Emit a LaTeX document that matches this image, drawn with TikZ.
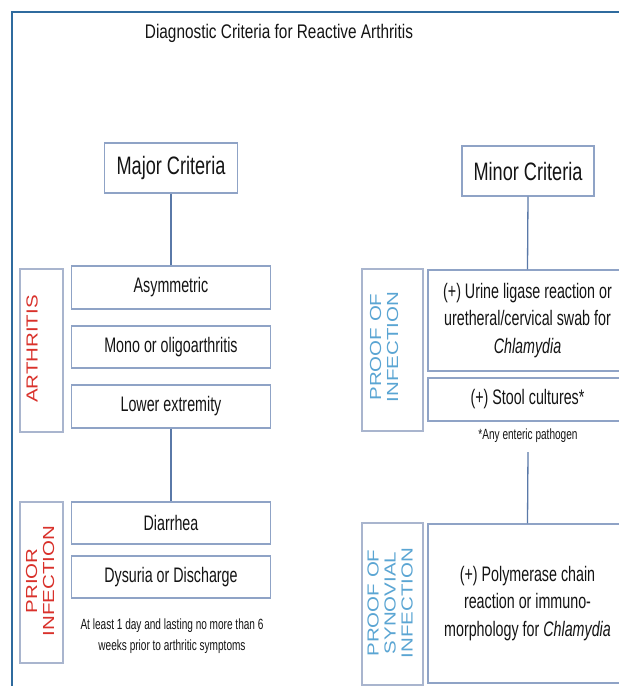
\documentclass[tikz,border=0pt]{standalone}
\usepackage{fontspec}
\newfontfamily\mainf[FakeStretch=0.68]{Liberation Sans}
\newfontfamily\headf[FakeStretch=0.72]{Liberation Sans}
\newfontfamily\titlef[FakeStretch=0.78]{Liberation Sans}
\newfontfamily\sidef[FakeStretch=1.28]{Liberation Sans}
\definecolor{framec}{HTML}{2F6B9E}
\definecolor{boxc}{HTML}{8FA3C6}
\definecolor{sidec}{HTML}{A9B5CE}
\definecolor{linkc}{HTML}{5A79A8}
\definecolor{redc}{HTML}{D9312B}
\definecolor{bluec}{HTML}{5AA5D3}
\definecolor{txtc}{HTML}{141414}
\tikzset{
  critbox/.style={draw=boxc, line width=1.3pt, inner sep=0pt, text=txtc, align=center, minimum width=199pt},
  headbox/.style={draw=boxc, line width=1.3pt, inner sep=0pt, text=txtc, minimum height=50pt, font=\headf\fontsize{25.2}{29}\selectfont},
  sidebox/.style={draw=sidec, line width=1.3pt, inner sep=0pt},
  sidetxt/.style={inner sep=0pt, rotate=90, align=center, font=\sidef\fontsize{16}{17}\selectfont},
  boxfont/.style={font=\mainf\fontsize{21}{27.5}\selectfont},
  notefont/.style={inner sep=0pt, text=txtc, align=center, font=\mainf\fontsize{14.8}{21}\selectfont},
  link/.style={draw=linkc, line width=1.3pt}
}
\begin{document}
\begin{tikzpicture}[x=1pt,y=-1pt]
\clip (0,0) rectangle (619,686);
\fill[white] (0,0) rectangle (619,686);
\draw[framec, line width=2pt] (12,700) -- (12,12) -- (640,12);

\node[inner sep=0pt, text=txtc, font=\titlef\fontsize{19.7}{24}\selectfont] (title) at (279,33) {Diagnostic Criteria for Reactive Arthritis};

% Left column
\node[headbox, minimum width=133pt] (major) at (171,168) {Major Criteria};
\node[critbox, boxfont, minimum height=43pt] (asym) at (171,287.5) {Asymmetric};
\node[critbox, boxfont, minimum height=42pt] (mono) at (171,347) {Mono or oligoarthritis};
\node[critbox, boxfont, minimum height=43pt] (lower) at (171,406.5) {Lower extremity};
\node[critbox, boxfont, minimum height=42pt] (diar) at (171,523) {Diarrhea};
\node[critbox, boxfont, minimum height=42pt] (dysu) at (171,577) {Dysuria or Discharge};
\node[notefont] (footl) at (172,636.5) {At least 1 day and lasting no more than 6\\weeks prior to arthritic symptoms};

\node[sidebox, minimum width=43pt, minimum height=163pt] (arthbox) at (41.5,350.5) {};
\node[sidetxt, text=redc] (arthtxt) at (32,349) {ARTHRITIS};
\node[sidebox, minimum width=43pt, minimum height=161pt] (priorbox) at (41.5,582.5) {};
\node[sidetxt, text=redc] (priortxt) at (40,581) {PRIOR\\INFECTION};

\draw[link] (major.south) -- (asym.north);
\draw[link] (lower.south) -- (diar.north);

% Right column
\node[headbox, minimum width=132pt] (minor) at (528,171) {Minor Criteria};
\node[critbox, boxfont, minimum height=101pt] (urine) at (527.5,320.5) {(+) Urine ligase reaction or\\uretheral/cervical swab for\\\textit{Chlamydia}};
\node[critbox, boxfont, minimum height=43pt] (stool) at (527.5,399.5) {(+) Stool cultures*};
\node[notefont] (footr) at (528,436) {*Any enteric pathogen};
\coordinate (footlink) at (528,452);
\node[critbox, boxfont, minimum height=159pt] (pcr) at (527.5,603.5) {(+) Polymerase chain\\reaction or immuno-\\morphology for \textit{Chlamydia}};

\node[sidebox, minimum width=61pt, minimum height=162pt] (proofbox) at (392.5,350) {};
\node[sidetxt, text=bluec] (prooftxt) at (384,347) {PROOF OF\\INFECTION};
\node[sidebox, minimum width=61pt, minimum height=162pt] (synbox) at (392.5,604) {};
\node[sidetxt, text=bluec] (syntxt) at (390,603) {PROOF OF\\SYNOVIAL\\INFECTION};

\draw[link] (minor.south) -- (urine.north);
\draw[link] (footlink) -- (pcr.north);
\end{tikzpicture}
\end{document}
